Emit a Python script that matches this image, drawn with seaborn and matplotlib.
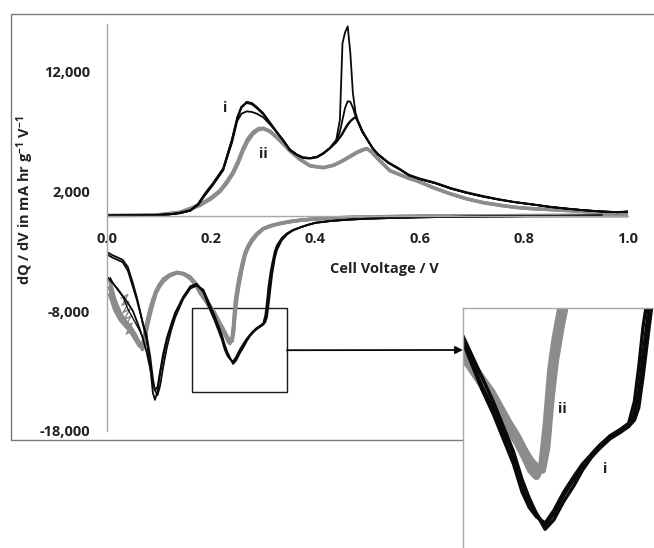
import numpy as np
import pandas as pd
import matplotlib
matplotlib.use("Agg")
import matplotlib.pyplot as plt
from matplotlib.patches import Rectangle
import seaborn as sns

# ---------------- data ----------------
# charge (delithiation) traces, black cycles share one voltage grid
volt_chg_black = [0.00, 0.06, 0.10, 0.12, 0.14, 0.16, 0.175, 0.188, 0.204, 0.223, 0.24, 0.25, 0.258,
                  0.268, 0.278, 0.288, 0.30, 0.313, 0.325, 0.338, 0.351, 0.364, 0.376, 0.39, 0.403,
                  0.415, 0.428, 0.44, 0.447, 0.452, 0.457, 0.462, 0.467, 0.472, 0.477, 0.483, 0.49,
                  0.50, 0.51, 0.52, 0.54, 0.56, 0.58, 0.60, 0.63, 0.66, 0.69, 0.72, 0.75, 0.78, 0.82,
                  0.85, 0.88, 0.91, 0.95, 0.98, 1.00]
chg_black_c1 = [0, 20, 60, 100, 200, 400, 900, 1700, 2600, 3800, 6100, 7900, 8500,
                8700, 8650, 8500, 8200, 7600, 7000, 6300, 5500, 5100, 4850, 4800, 4900,
                5200, 5650, 6300, 8000, 14400, 15300, 15800, 13600, 10200, 8600, 7700, 7000,
                6300, 5600, 5100, 4400, 3900, 3350, 3050, 2700, 2250, 1900, 1600, 1350, 1130, 900,
                720, 580, 460, 330, 280, 320]
chg_black_c2 = [0, 20, 60, 100, 220, 420, 950, 1750, 2650, 3850, 6300, 8100, 9000,
                9450, 9350, 9000, 8500, 7750, 7000, 6300, 5500, 5100, 4850, 4800, 4900,
                5200, 5650, 6300, 7000, 8000, 9000, 9550, 9500, 9000, 8300, 7700, 7000,
                6300, 5600, 5100, 4400, 3900, 3350, 3050, 2700, 2250, 1900, 1600, 1350, 1130, 900,
                720, 580, 460, 330, 280, 320]
chg_black_c3 = [0, 20, 60, 100, 200, 400, 900, 1700, 2600, 3800, 6300, 8150, 9050,
                9500, 9400, 9050, 8550, 7750, 7050, 6300, 5500, 5100, 4850, 4800, 4900,
                5200, 5650, 6200, 6600, 6900, 7300, 7650, 7900, 8100, 8200, 7700, 7000,
                6300, 5600, 5100, 4400, 3900, 3350, 3050, 2700, 2250, 1900, 1600, 1350, 1130, 900,
                720, 580, 460, 330, 280, 320]
chg_black_c4 = [0, 20, 60, 110, 230, 450, 1000, 1850, 2750, 3950, 6400, 8200, 9100,
                9400, 9300, 8950, 8450, 7700, 7000, 6250, 5450, 5050, 4800, 4750, 4850,
                5150, 5600, 6100, 6500, 6800, 7200, 7550, 7850, 8050, 8250, 7800, 7100,
                6350, 5650, 5150, 4450, 3950, 3400, 3100, 2750, 2300, 1950, 1650, 1380, 1150, 920,
                740, 600, 470, 340, 290, 330]

volt_chg_grey = [0.00, 0.06, 0.10, 0.14, 0.178, 0.20, 0.217, 0.23, 0.242, 0.252, 0.261, 0.27, 0.28,
                 0.29, 0.30, 0.313, 0.326, 0.338, 0.351, 0.37, 0.39, 0.415, 0.435, 0.453, 0.468,
                 0.48, 0.49, 0.499, 0.508, 0.518, 0.53, 0.543, 0.56, 0.58, 0.595, 0.625, 0.658,
                 0.69, 0.722, 0.755, 0.787, 0.82, 0.85, 0.90, 0.946, 0.98, 1.00]
chg_grey_c1 = [0, 20, 60, 250, 830, 1400, 2000, 2700, 3500, 4400, 5400, 6200, 6800,
               7150, 7250, 7000, 6500, 6000, 5400, 4700, 4150, 4000, 4200, 4580, 4950,
               5250, 5450, 5580, 5300, 4830, 4300, 3750, 3450, 3100, 2900, 2350, 1830,
               1400, 1080, 850, 670, 560, 500, 380, 250, 230, 260]
chg_grey_c2 = [0, 20, 70, 280, 900, 1500, 2100, 2850, 3650, 4600, 5600, 6400, 6950,
               7250, 7300, 7050, 6550, 6000, 5400, 4700, 4150, 4000, 4200, 4600, 5000,
               5300, 5500, 5600, 5300, 4830, 4300, 3750, 3450, 3100, 2900, 2350, 1830,
               1400, 1080, 850, 670, 560, 500, 380, 250, 230, 260]

# discharge (lithiation) traces
volt_dis_black = [0.002, 0.01, 0.02, 0.03, 0.04, 0.05, 0.057, 0.063, 0.069, 0.076, 0.083, 0.088,
                  0.092, 0.097, 0.102, 0.108, 0.115, 0.123, 0.131, 0.146, 0.16, 0.172, 0.185,
                  0.198, 0.206, 0.213, 0.22, 0.226, 0.231, 0.236, 0.242, 0.248, 0.255, 0.262,
                  0.268, 0.274, 0.28, 0.287, 0.294, 0.30, 0.304, 0.307, 0.31, 0.314, 0.317,
                  0.322, 0.326, 0.335, 0.345, 0.357, 0.37, 0.385, 0.40, 0.43, 0.46, 0.50, 0.55,
                  0.60, 0.70, 0.80, 0.90, 0.95]
dis_black_c1 = [-3100, -3300, -3500, -3700, -4300, -5700, -6800, -7900, -9100, -10400, -12600, -14800,
                -15400, -14700, -13200, -11800, -10400, -9200, -8150, -6800, -5900, -5700, -6300,
                -7800, -8500, -9300, -10100, -11000, -11500, -11900, -12300, -11900, -11300, -10800,
                -10400, -10000, -9700, -9400, -9200, -9000, -8300, -7200, -5900, -4700, -4000,
                -3000, -2500, -1900, -1500, -1200, -1000, -780, -600, -450, -350, -260, -200,
                -150, -90, -50, -20, 0]
dis_black_c2 = [-3300, -3500, -3700, -3900, -4600, -6000, -7000, -8000, -9000, -10000, -11800, -13600,
                -14600, -15000, -14200, -12600, -11000, -9600, -8500, -7000, -6100, -5850, -6200,
                -7500, -8300, -9100, -9900, -10800, -11400, -11900, -12400, -12100, -11500, -11000,
                -10500, -10100, -9800, -9500, -9300, -9100, -8900, -8500, -7500, -6000, -4900,
                -3600, -2900, -2100, -1600, -1250, -1020, -800, -620, -460, -360, -270, -200,
                -150, -90, -50, -20, 0]
dis_black_c3 = [-5200, -5600, -6100, -6700, -7300, -8000, -8800, -9500, -10300, -11400, -12800, -14000,
                -14600, -14300, -13000, -11500, -10200, -9100, -8100, -6900, -6000, -5800, -6400,
                -7900, -8700, -9500, -10300, -11200, -11700, -12000, -12200, -11800, -11200, -10700,
                -10300, -10000, -9700, -9450, -9250, -9100, -8700, -8000, -6800, -5300, -4300,
                -3300, -2700, -2000, -1550, -1220, -1000, -780, -600, -450, -350, -260, -200,
                -150, -90, -50, -20, 0]

volt_dis_grey = [0.005, 0.015, 0.025, 0.035, 0.045, 0.055, 0.062, 0.068, 0.072, 0.076, 0.082, 0.088,
                 0.094, 0.10, 0.108, 0.12, 0.134, 0.147, 0.159, 0.17, 0.179, 0.19, 0.198, 0.205,
                 0.211, 0.217, 0.223, 0.228, 0.232, 0.236, 0.24, 0.243, 0.246, 0.249, 0.253, 0.259,
                 0.265, 0.271, 0.278, 0.288, 0.30, 0.315, 0.332, 0.35, 0.37, 0.40, 0.45, 0.50,
                 0.60, 0.70, 0.80, 0.90, 1.00]
dis_grey_c1 = [-6000, -7600, -8500, -9000, -9400, -10200, -10800, -11100, -10500, -9300, -8200, -7200,
               -6400, -5900, -5400, -5000, -4750, -4850, -5150, -5700, -6400, -7100, -7650, -8100,
               -8600, -9100, -9550, -10000, -10300, -10500, -10400, -9400, -7700, -6700, -5600, -4300,
               -3200, -2600, -2100, -1550, -1100, -850, -670, -520, -400, -280, -180, -120,
               -60, -30, -10, 0, 0]
dis_grey_c2 = [-6600, -7900, -8700, -9200, -9700, -10400, -10900, -10800, -10000, -9000, -7900, -7000,
               -6300, -5800, -5300, -4950, -4750, -4900, -5250, -5800, -6500, -7200, -7750, -8250,
               -8750, -9200, -9650, -10100, -10500, -10700, -10300, -9000, -7300, -6300, -5300, -4100,
               -3100, -2500, -2000, -1500, -1080, -830, -650, -500, -390, -270, -170, -110,
               -55, -25, -8, 0, 0]
dis_grey_c3 = [-5400, -7000, -8100, -8800, -9300, -10000, -10600, -11200, -10800, -9600, -8400, -7400,
               -6500, -6000, -5500, -5050, -4800, -4850, -5100, -5650, -6300, -7000, -7550, -8000,
               -8500, -9000, -9450, -9900, -10200, -10400, -10500, -9800, -8200, -7000, -5900, -4500,
               -3300, -2700, -2150, -1600, -1120, -870, -680, -530, -410, -285, -185, -125,
               -62, -32, -12, 0, 0]

# first-cycle hatch of short grey segments near 0 V
volt_grey_hatch = [0.027, 0.040, 0.029, 0.042, 0.031, 0.044, 0.033, 0.046, 0.035, 0.048, 0.037, 0.050]
dqdv_grey_hatch = [-6900, -6600, -7500, -7200, -8100, -7800, -8700, -8400, -9300, -9000, -9900, -9600]
# thin black trace from 0 V
volt_black_thin = [0.006, 0.015, 0.031, 0.040, 0.050, 0.060, 0.069]
dqdv_black_thin = [-5170, -5900, -6830, -7800, -8600, -9400, -10200]

x_ticks = [0.0, 0.2, 0.4, 0.6, 0.8, 1.0]
x_tick_labels = ["0.0", "0.2", "0.4", "0.6", "0.8", "1.0"]
y_ticks = [-18000, -8000, 2000, 12000]
y_tick_labels = ["-18,000", "-8,000", "2,000", "12,000"]

# ---------------- tidy tables ----------------
def long_table(x, series):
    rows = []
    for name, ys in series.items():
        for xi, yi in zip(x, ys):
            rows.append((name, xi, yi))
    return pd.DataFrame(rows, columns=["cycle", "voltage", "dqdv"])

df_chg_black = long_table(volt_chg_black, {"c1": chg_black_c1, "c2": chg_black_c2,
                                           "c3": chg_black_c3, "c4": chg_black_c4})
df_chg_grey = long_table(volt_chg_grey, {"c1": chg_grey_c1, "c2": chg_grey_c2})
df_dis_black = long_table(volt_dis_black, {"c1": dis_black_c1, "c2": dis_black_c2, "c3": dis_black_c3})
df_dis_grey = long_table(volt_dis_grey, {"c1": dis_grey_c1, "c2": dis_grey_c2, "c3": dis_grey_c3})
df_hatch = pd.DataFrame({"voltage": volt_grey_hatch, "dqdv": dqdv_grey_hatch, "cycle": "h"})
df_thin = pd.DataFrame({"voltage": volt_black_thin, "dqdv": dqdv_black_thin, "cycle": "t"})

# ---------------- style ----------------
sns.set_style("white")
plt.rcParams["font.family"] = ["Open Sans", "DejaVu Sans"]
plt.rcParams["font.weight"] = "bold"
plt.rcParams["mathtext.fontset"] = "custom"
plt.rcParams["mathtext.rm"] = "Open Sans:bold"
plt.rcParams["mathtext.default"] = "rm"

BLACK = "#0a0a0a"
GREY = "#8c8c8c"
AXIS = "#a8a8a8"
FRAME = "#7a7a7a"
TEXT = "#222222"

W, H = 654, 548
fig = plt.figure(figsize=(W / 100, H / 100), dpi=100)

def px_box(x0, y0, x1, y1):
    return [x0 / W, (H - y1) / H, (x1 - x0) / W, (y1 - y0) / H]

# outer chart frame (runs off the right edge)
fig.add_artist(Rectangle((11 / W, (H - 440) / H), 1.2, (440 - 14) / H, transform=fig.transFigure,
                         fill=False, edgecolor=FRAME, lw=1.0, zorder=-1))

ax = fig.add_axes(px_box(107, 24, 628, 431))
ax.patch.set_alpha(0)


def draw_traces(a, lw_black, lw_grey):
    kw = dict(x="voltage", y="dqdv", units="cycle", estimator=None, sort=False, legend=False, ax=a)
    sns.lineplot(data=df_hatch, color=GREY, lw=lw_black * 0.8, **kw)
    sns.lineplot(data=df_chg_grey, color=GREY, lw=lw_grey, **kw)
    sns.lineplot(data=df_dis_grey, color=GREY, lw=lw_grey, **kw)
    sns.lineplot(data=df_thin, color=BLACK, lw=lw_black * 0.7, **kw)
    sns.lineplot(data=df_chg_black, color=BLACK, lw=lw_black, **kw)
    sns.lineplot(data=df_dis_black, color=BLACK, lw=lw_black, **kw)


draw_traces(ax, 1.3, 2.5)

ax.set_xlim(0, 1.0)
ax.set_ylim(-18000, 16000)
for side in ("top", "right"):
    ax.spines[side].set_visible(False)
ax.spines["bottom"].set_position(("data", 0))
for side in ("left", "bottom"):
    ax.spines[side].set_color(AXIS)
    ax.spines[side].set_linewidth(1.0)
ax.set_xticks(x_ticks)
ax.set_xticklabels(x_tick_labels)
ax.set_yticks(y_ticks)
ax.set_yticklabels(y_tick_labels)
ax.tick_params(axis="x", length=0, pad=12, labelsize=10.5, colors=TEXT)
ax.tick_params(axis="y", length=0, pad=12, labelsize=10.5, colors=TEXT)
for lab in ax.get_xticklabels() + ax.get_yticklabels():
    lab.set_fontweight("bold")

ax.set_xlabel("Cell Voltage / V", fontsize=10.5, fontweight="bold", color=TEXT)
ax.xaxis.set_label_coords(0.532, 0.397)
ax.xaxis.label.set_va("center")
ax.set_ylabel("dQ / dV in mA hr g$^{-1}$ V$^{-1}$", fontsize=10.5, fontweight="bold", color=TEXT)
ax.yaxis.set_label_coords(-0.157, 0.566)
ax.yaxis.label.set_va("center")

ax.text(0.2265, 9000, "i", fontsize=10.5, fontweight="bold", color=TEXT, ha="center", va="center")
ax.text(0.2994, 5170, "ii", fontsize=10.5, fontweight="bold", color=TEXT, ha="center", va="center")

# magnified window marker
ax.add_patch(Rectangle((0.163, -14750), 0.3455 - 0.163, 7000, fill=False, edgecolor="#1a1a1a", lw=1.0))
ax.annotate("", xy=(463 / W, (H - 350) / H), xycoords="figure fraction",
            xytext=(0.3455, -11250), textcoords="data", annotation_clip=False,
            arrowprops=dict(arrowstyle="-|>", color=BLACK, lw=1.3, shrinkA=0, shrinkB=0,
                            mutation_scale=11))

# inset
axi = fig.add_axes(px_box(463, 308, 654, 548))
axi.set_facecolor("white")
draw_traces(axi, 2.4, 5.5)
axi.set_xlim(0.185, 0.3176)
axi.set_ylim(-13000, -5300)
axi.set_xticks([])
axi.set_yticks([])
axi.set_xlabel("")
axi.set_ylabel("")
for side in ("right", "bottom"):
    axi.spines[side].set_visible(False)
for side in ("left", "top"):
    axi.spines[side].set_color(AXIS)
    axi.spines[side].set_linewidth(1.0)
axi.text(0.2538, -8530, "ii", fontsize=10.5, fontweight="bold", color=TEXT, ha="center", va="center")
axi.text(0.2836, -10470, "i", fontsize=10.5, fontweight="bold", color=TEXT, ha="center", va="center")

fig.savefig("out.png", dpi=100)
